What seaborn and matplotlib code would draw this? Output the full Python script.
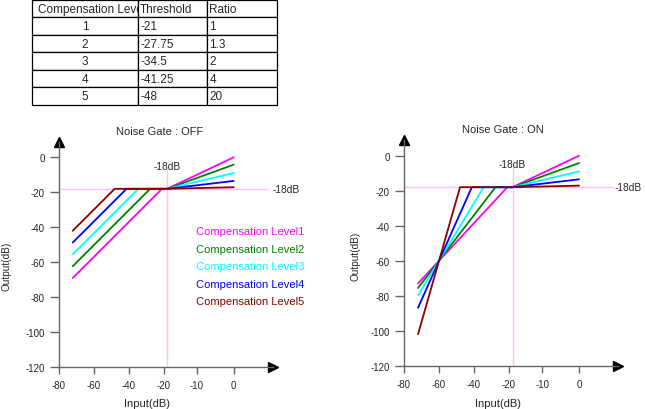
import numpy as np
import pandas as pd
import seaborn as sns
from matplotlib import pyplot as plt
from matplotlib.transforms import Bbox, TransformedBbox

# compensation table
levels = [1, 2, 3, 4, 5]
thresholds = [-21, -27.75, -34.5, -41.25, -48]
ratios = [1, 1.3, 2, 4, 20]
level_names = ['Compensation Level%d' % l for l in levels]
colors = ['#ff00ff', '#008000', '#00ffff', '#0000ff', '#8b0000']

# curve breakpoints in dB
in_start = -72
knee = -18
in_end = 0
off_start_out = [-69, -62.25, -55.5, -48.75, -42]
on_start_out = [-73, -75.6, -79.8, -86.9, -102]
end_out = [0, -4.2, -9, -13.5, -17.1]

x_ticks = [-80, -60, -40, -20, -10, 0]
y_ticks = [0, -20, -40, -60, -80, -100, -120]


def curves(start_out):
    rows = []
    for name, thr, y0, y1 in zip(level_names, thresholds, start_out, end_out):
        rows += [(name, in_start, y0), (name, thr, knee), (name, knee, knee), (name, in_end, y1)]
    return pd.DataFrame(rows, columns=['level', 'input', 'output'])


# input axis is stretched above the -18dB knee
def fwd(x):
    x = np.asarray(x, dtype=float)
    return np.where(x <= -18, (x + 80) / 20, 3.1 + (x + 18) * 1.9 / 18)


def inv(u):
    u = np.asarray(u, dtype=float)
    return np.where(u <= 3.1, u * 20 - 80, -18 + (u - 3.1) * 18 / 1.9)


sns.set_style("white")
plt.rcParams['font.family'] = ['Liberation Sans', 'DejaVu Sans']
plt.rcParams['axes.unicode_minus'] = False

fig = plt.figure(figsize=(6.45, 4.1), dpi=100)

# table at the top
tax = fig.add_axes([0.050, 0.742, 0.38, 0.256])
tax.axis('off')
cell_text = [[str(l), '%g' % t, '%g' % r] for l, t, r in zip(levels, thresholds, ratios)]
tab = tax.table(cellText=cell_text, colLabels=['Compensation Level', 'Threshold', 'Ratio'],
                colWidths=[0.43, 0.282, 0.288], bbox=[0, 0, 1, 1],
                cellLoc='left', colLoc='left')
tab.auto_set_font_size(False)
tab.set_fontsize(8.5)
for (r, c), cell in tab.get_celld().items():
    cell.set_linewidth(0.9)
    cell.PAD = 0.035
    if c == 0 and r > 0:
        cell.get_text().set_ha('center')
        cell._loc = 'center'
head = tab[0, 0]
head.PAD = 0.057
t = head.get_text()
t.set_clip_on(True)
t.set_clip_box(TransformedBbox(Bbox([[0, 5 / 6], [0.43, 1]]), tax.transAxes))

panels = [
    ('Noise Gate : OFF', off_start_out, [0.0910, 0.1017], 0.473, (-0.219, 0.45), (0.411, -0.135), 1.0),
    ('Noise Gate : ON', on_start_out, [0.6264, 0.1056], 0.46, (-0.202, 0.487), (0.44, -0.142), 0.983),
]
w = 214.2 / 645
h = 225.75 / 410

for i, (title, start_out, pos, tx, ylc, xlc, rx) in enumerate(panels):
    ax = fig.add_axes([pos[0], pos[1], w, h])
    df = curves(start_out)
    sns.lineplot(data=df, x='input', y='output', hue='level', hue_order=level_names,
                 palette=colors, estimator=None, sort=False, lw=1.3, ax=ax, legend=(i == 0))
    ax.set_xscale('function', functions=(fwd, inv))
    ax.set_xlim(-80, float(inv(6.12)))
    ax.set_ylim(-120, 9)
    ax.set_xticks(x_ticks)
    ax.set_xticklabels([str(v) for v in x_ticks])
    ax.set_yticks(y_ticks)
    ax.minorticks_off()

    # -18dB guides
    ax.axhline(knee, xmin=0, xmax=0.974, color='#ffbfff', lw=1, zorder=0)
    ax.axvline(knee, ymin=0, ymax=0.876, color='#ffbfff', lw=1, zorder=0)
    ax.text(knee, -5, '-18dB', ha='center', va='center', fontsize=7.3)
    ax.text(rx, knee, '-18dB', ha='left', va='center', fontsize=7.3,
            transform=ax.get_yaxis_transform())

    sns.despine(ax=ax)
    for s in ['left', 'bottom']:
        ax.spines[s].set_color('#666666')
        ax.spines[s].set_linewidth(1)
    ax.plot(1, 0, '>', color='k', ms=7, transform=ax.transAxes, clip_on=False)
    ax.plot(0, 1, '^', color='k', ms=7, transform=ax.transAxes, clip_on=False)

    ax.tick_params(axis='x', direction='out', length=5, width=1, pad=4.5,
                   color='#666666', labelsize=7, bottom=True)
    ax.tick_params(axis='y', direction='out', length=6.5, width=1, pad=3.6,
                   color='#666666', labelsize=7, left=True)

    ax.set_title(title, x=tx, pad=5.5, fontsize=8)
    ax.set_xlabel('Input(dB)', fontsize=8)
    ax.set_ylabel('Output(dB)', fontsize=7.2)
    ax.yaxis.set_label_coords(*ylc)
    ax.xaxis.set_label_coords(*xlc)

    if i == 0:
        old = ax.get_legend()
        handles = old.legend_handles
        labels = [tt.get_text() for tt in old.get_texts()]
        old.remove()
        ax.legend(handles, labels, loc='upper left', bbox_to_anchor=(0.64, 0.626),
                  frameon=False, handlelength=0, handletextpad=0, borderpad=0,
                  borderaxespad=0, labelcolor='linecolor', prop={'size': 8},
                  labelspacing=0.68)

plt.savefig('out.png', dpi=100)
